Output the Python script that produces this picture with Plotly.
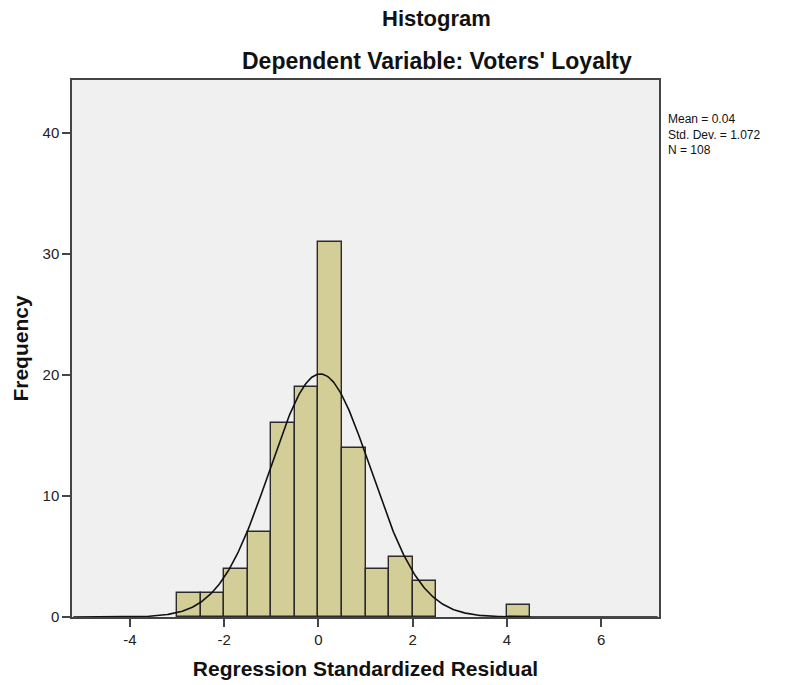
import numpy as np
import plotly.graph_objects as go

bin_starts = [-3.0, -2.5, -2.0, -1.5, -1.0, -0.5, 0.0, 0.5, 1.0, 1.5, 2.0, 4.0]
counts = [2, 2, 4, 7, 16, 19, 31, 14, 4, 5, 3, 1]
bin_width = 0.5
mean = 0.04
std_dev = 1.072
n_total = 108
x_ticks = [-4, -2, 0, 2, 4, 6]
y_ticks = [0, 10, 20, 30, 40]

FONT = "Liberation Sans, Arial, sans-serif"

centers = [s + bin_width / 2 for s in bin_starts]
xs = np.linspace(-5.2, 7.2, 500)
ys = n_total * bin_width / (std_dev * np.sqrt(2 * np.pi)) * np.exp(-0.5 * ((xs - mean) / std_dev) ** 2)

fig = go.Figure()
fig.add_trace(go.Bar(
    x=centers, y=counts, width=bin_width,
    marker=dict(color="#D3CE97", line=dict(color="#2a2a2a", width=1.4)),
    hoverinfo="x+y", showlegend=False,
))
fig.add_trace(go.Scatter(
    x=xs, y=ys, mode="lines",
    line=dict(color="#111111", width=1.6), showlegend=False, hoverinfo="skip",
))

PW, PH = 587, 537
fig.update_layout(
    width=791, height=685,
    margin=dict(l=72, r=132, t=80, b=68, autoexpand=False),
    paper_bgcolor="white", plot_bgcolor="#F0F0F0",
    font=dict(family=FONT, size=13, color="#222222"),
    bargap=0,
    annotations=[
        dict(text="<b>Histogram</b>", xref="paper", yref="paper",
             x=(436 - 72) / PW, y=1 + (80 - 18) / PH, xanchor="center", yanchor="middle",
             showarrow=False, font=dict(size=22, color="#111111")),
        dict(text="<b>Dependent Variable: Voters' Loyalty</b>", xref="paper", yref="paper",
             x=(437 - 72) / PW, y=1 + (80 - 61) / PH, xanchor="center", yanchor="middle",
             showarrow=False, font=dict(size=23, color="#111111")),
        dict(text=f"Mean = {mean}<br>Std. Dev. = {std_dev}<br>N = {n_total}",
             xref="paper", yref="paper", x=1 + (666 - 659) / PW, y=1 - (110 - 80) / PH,
             xanchor="left", yanchor="top", align="left", showarrow=False,
             font=dict(size=12, color="#111111")),
    ],
)
fig.update_xaxes(
    range=[-5.23, 7.23], tickvals=x_ticks, ticktext=[str(t) for t in x_ticks],
    showgrid=False, zeroline=False, showline=True, linecolor="#444444", linewidth=1.5,
    mirror=True, ticks="outside", ticklen=8, tickcolor="#444444", tickwidth=1.5,
    tickfont=dict(size=15, color="#222222"),
    title=dict(text="<b>Regression Standardized Residual</b>", font=dict(size=21, color="#111111"), standoff=15),
)
fig.update_yaxes(
    range=[0, 44.4], tickvals=y_ticks, ticktext=[str(t) for t in y_ticks],
    showgrid=False, zeroline=False, showline=True, linecolor="#444444", linewidth=1.5,
    mirror=True, ticks="outside", ticklen=8, tickcolor="#444444", tickwidth=1.5,
    tickfont=dict(size=15, color="#222222"),
    title=dict(text="<b>Frequency</b>", font=dict(size=21, color="#111111"), standoff=8),
)

fig.write_html("out.html", config={"displayModeBar": False},
               post_script="document.body.style.margin='0';")
